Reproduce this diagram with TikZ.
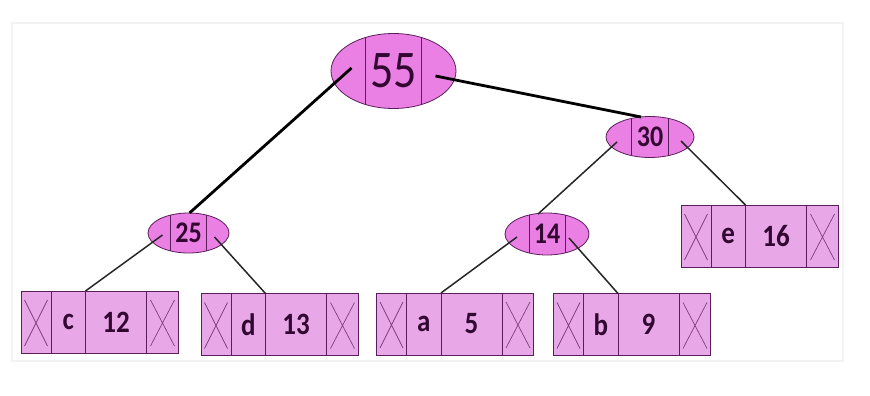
\documentclass[tikz,border=0pt]{standalone}
\usepackage{fontspec}
\usepackage{graphicx}
\setmainfont{Carlito}
\usetikzlibrary{shapes.geometric,calc}
\definecolor{ellfill}{RGB}{234,128,228}
\definecolor{boxfill}{RGB}{232,168,232}
\definecolor{edgepurple}{RGB}{90,30,90}
\definecolor{xpurple}{RGB}{130,60,130}
\definecolor{txt}{RGB}{50,8,50}
\definecolor{frame}{RGB}{243,243,243}
\newcommand{\tallt}[1]{\scalebox{1}[1.15]{#1}}
\tikzset{
  ellnode/.style n args={3}{ellipse, draw=edgepurple, line width=0.8pt, fill=ellfill,
    minimum width=#1, minimum height=#2, inner sep=0pt, text=txt,
    path picture={
      \draw[edgepurple, line width=0.8pt]
        ([xshift=-#3]path picture bounding box.north) -- ([xshift=-#3]path picture bounding box.south)
        ([xshift=#3]path picture bounding box.north) -- ([xshift=#3]path picture bounding box.south);
    }},
  leafbody/.style={rectangle, draw=edgepurple, line width=1pt, fill=boxfill,
    minimum width=157pt, minimum height=62pt, inner sep=0pt},
  divider/.style={edgepurple, line width=0.9pt},
  xmark/.style={xpurple, line width=0.7pt},
  thickedge/.style={black, line width=2.8pt},
  thinedge/.style={black!85, line width=1.5pt},
  leaftext/.style={text=txt, font=\fontsize{27}{27}\selectfont\bfseries},
  pics/leafbox/.style 2 args={code={
    \node[leafbody] (-b) at (0,0) {};
    \draw[divider] (-48.5,-31) -- (-48.5,31);
    \draw[divider] (-14,-31) -- (-14,31);
    \draw[divider] (47,-31) -- (47,31);
    \draw[xmark] (-75,-22) -- (-52,24) (-52,-22) -- (-75,24);
    \draw[xmark] (51,-22) -- (75,24) (75,-22) -- (51,24);
    \node[leaftext] (-k) at (-31.25,0) {\tallt{#1}};
    \node[leaftext] (-v) at (16.5,0) {\tallt{#2}};
    \coordinate (-top) at (-14,-31);
  }}
}
\begin{document}
\begin{tikzpicture}[x=1pt,y=-1pt]
\useasboundingbox (0,0) rectangle (870,396);
\fill[white] (0,0) rectangle (870,396);
\draw[frame, line width=2pt] (12,23) rectangle (843,361);

\node[ellnode={125pt}{75pt}{28pt}, font=\fontsize{46}{46}\selectfont] (root) at (393.5,71) {\tallt{55}};
\node[ellnode={88pt}{41pt}{18.5pt}, font=\fontsize{26}{26}\selectfont\bfseries] (n30) at (650,137) {\tallt{30}};
\node[ellnode={81pt}{40pt}{18pt}, font=\fontsize{26}{26}\selectfont\bfseries] (n25) at (188.5,233) {\tallt{25}};
\node[ellnode={84pt}{42pt}{18pt}, font=\fontsize{26}{26}\selectfont\bfseries] (n14) at (547,234) {\tallt{14}};

\pic (c) at (99.5,322) {leafbox={c}{12}};
\pic (d) at (279.5,324.5) {leafbox={d}{13}};
\pic (a) at (455,324) {leafbox={a}{5}};
\pic (b) at (632,324.5) {leafbox={b}{9}};
\pic (e) at (759.5,236) {leafbox={e}{16}};

\coordinate (rootL) at ($(root.center)+(-42,-3)$);
\coordinate (rootR) at ($(root.center)+(42,5)$);
\coordinate (n30top) at ($(n30.center)+(-9,-20)$);
\coordinate (n25top) at ($(n25.center)+(1,-20)$);
\coordinate (n30L) at ($(n30.center)+(-33,5)$);
\coordinate (n30R) at ($(n30.center)+(31,4)$);
\coordinate (n14top) at ($(n14.center)+(-9,-20)$);
\coordinate (n25L) at ($(n25.center)+(-26,2)$);
\coordinate (n25R) at ($(n25.center)+(26,4)$);
\coordinate (n14L) at ($(n14.center)+(-30,3)$);
\coordinate (n14R) at ($(n14.center)+(22,4)$);

\draw[thickedge] (rootL) -- (n25top);
\draw[thickedge] (rootR) -- (n30top);
\draw[thinedge] (n30L) -- (n14top);
\draw[thinedge] (n30R) -- (e-top);
\draw[thinedge] (n25L) -- (c-top);
\draw[thinedge] (n25R) -- (d-top);
\draw[thinedge] (n14L) -- (a-top);
\draw[thinedge] (n14R) -- (b-top);
\end{tikzpicture}
\end{document}
